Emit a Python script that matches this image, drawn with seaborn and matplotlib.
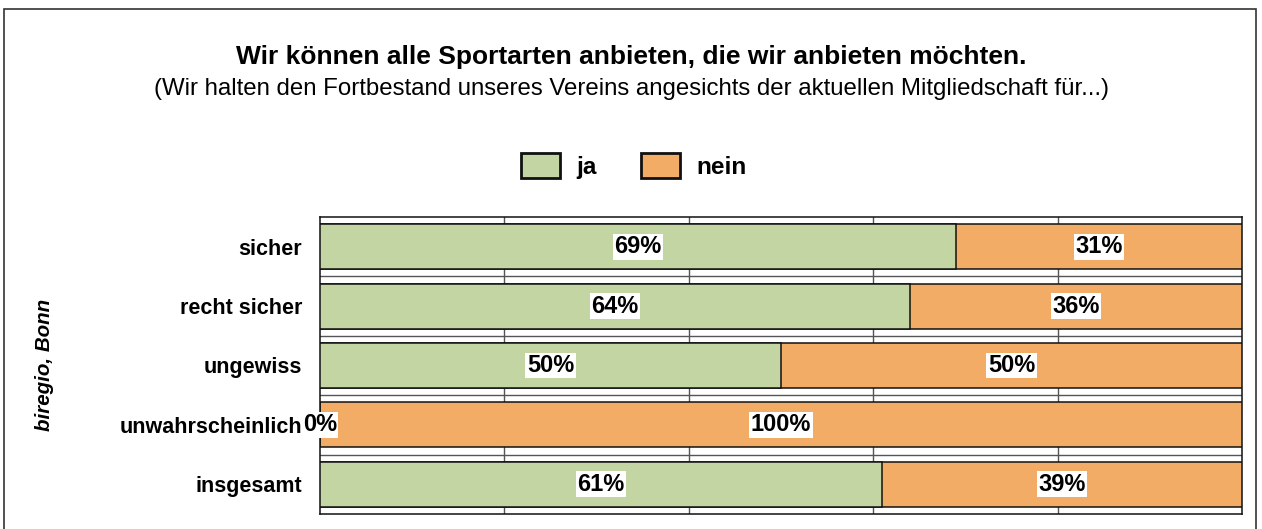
import numpy as np
import pandas as pd
import seaborn as sns
import matplotlib.pyplot as plt
from matplotlib.patches import Rectangle, Patch

categories = ['sicher', 'recht sicher', 'ungewiss', 'unwahrscheinlich', 'insgesamt']
ja = [69, 64, 50, 0, 61]
nein = [31, 36, 50, 100, 39]

GREEN = '#c4d5a4'
ORANGE = '#f2ac66'

sns.set_style('white')
plt.rcParams['font.family'] = ['Liberation Sans', 'DejaVu Sans']
plt.rcParams['text.color'] = 'black'
plt.rcParams['ytick.color'] = 'black'
plt.rcParams['ytick.labelcolor'] = 'black'

df = pd.DataFrame({'cat': categories, 'ja': ja, 'nein': nein})
df['total'] = df['ja'] + df['nein']

fig = plt.figure(figsize=(12.62, 5.29), dpi=100)
ax = fig.add_axes([320/1262, 1 - 514/529, 922/1262, 297/529])

# full bar in orange, ja overlaid from the left
sns.barplot(data=df, y='cat', x='total', color=ORANGE, orient='h', width=0.76,
            edgecolor='#111111', linewidth=1.1, saturation=1, ax=ax, zorder=3)
sns.barplot(data=df, y='cat', x='ja', color=GREEN, orient='h', width=0.76,
            edgecolor='#111111', linewidth=1.1, saturation=1, ax=ax, zorder=4)

ax.set_xlim(0, 100)
ax.set_ylim(len(categories) - 0.5, -0.5)
for x in [20, 40, 60, 80]:
    ax.axvline(x, color='#555555', lw=1, zorder=1)
for y in np.arange(0.5, len(categories) - 0.5, 1):
    ax.axhline(y, color='#555555', lw=1, zorder=1)
for s in ax.spines.values():
    s.set_color('#111111')
    s.set_linewidth(1.1)

ax.set_xticks([])
ax.set_xlabel('')
ax.set_ylabel('')
ax.tick_params(axis='y', length=0, pad=13)
for t in ax.get_yticklabels():
    t.set_fontweight('bold')
    t.set_fontsize(15.5)
    t.set_color('black')

lbl = dict(ha='center', va='center', fontsize=17, fontweight='bold', zorder=6,
           color='black', bbox=dict(facecolor='white', edgecolor='none', pad=1.0))
for i, (j, n) in enumerate(zip(ja, nein)):
    ax.text(j / 2, i, f'{j}%', **lbl)
    ax.text(j + n / 2, i, f'{n}%', **lbl)

fig.text(0.5, 1 - 57/529, 'Wir können alle Sportarten anbieten, die wir anbieten möchten.',
         ha='center', va='center', fontsize=19, fontweight='bold')
fig.text(0.5, 1 - 89/529,
         '(Wir halten den Fortbestand unseres Vereins angesichts der aktuellen Mitgliedschaft für...)',
         ha='center', va='center', fontsize=17.3)
fig.text(45/1262, 1 - 365/529, 'biregio, Bonn', rotation=90, ha='center', va='center',
         fontsize=14.8, fontweight='bold', fontstyle='italic')

handles = [Patch(facecolor=GREEN, edgecolor='#111111', lw=2, label='ja'),
           Patch(facecolor=ORANGE, edgecolor='#111111', lw=2, label='nein')]
leg = fig.legend(handles=handles, loc='center', bbox_to_anchor=(634/1262, 1 - 166/529),
                 ncol=2, frameon=False, handlelength=1.6, handleheight=1.2,
                 columnspacing=1.8, handletextpad=0.7,
                 prop={'weight': 'bold', 'size': 17.5})

fig.patches.append(Rectangle((4/1262, -0.02), 1252/1262, 1.0 - 9/529 + 0.02,
                             transform=fig.transFigure, fill=False,
                             edgecolor='#333333', lw=1.2))

fig.savefig('out.png', dpi=100)
